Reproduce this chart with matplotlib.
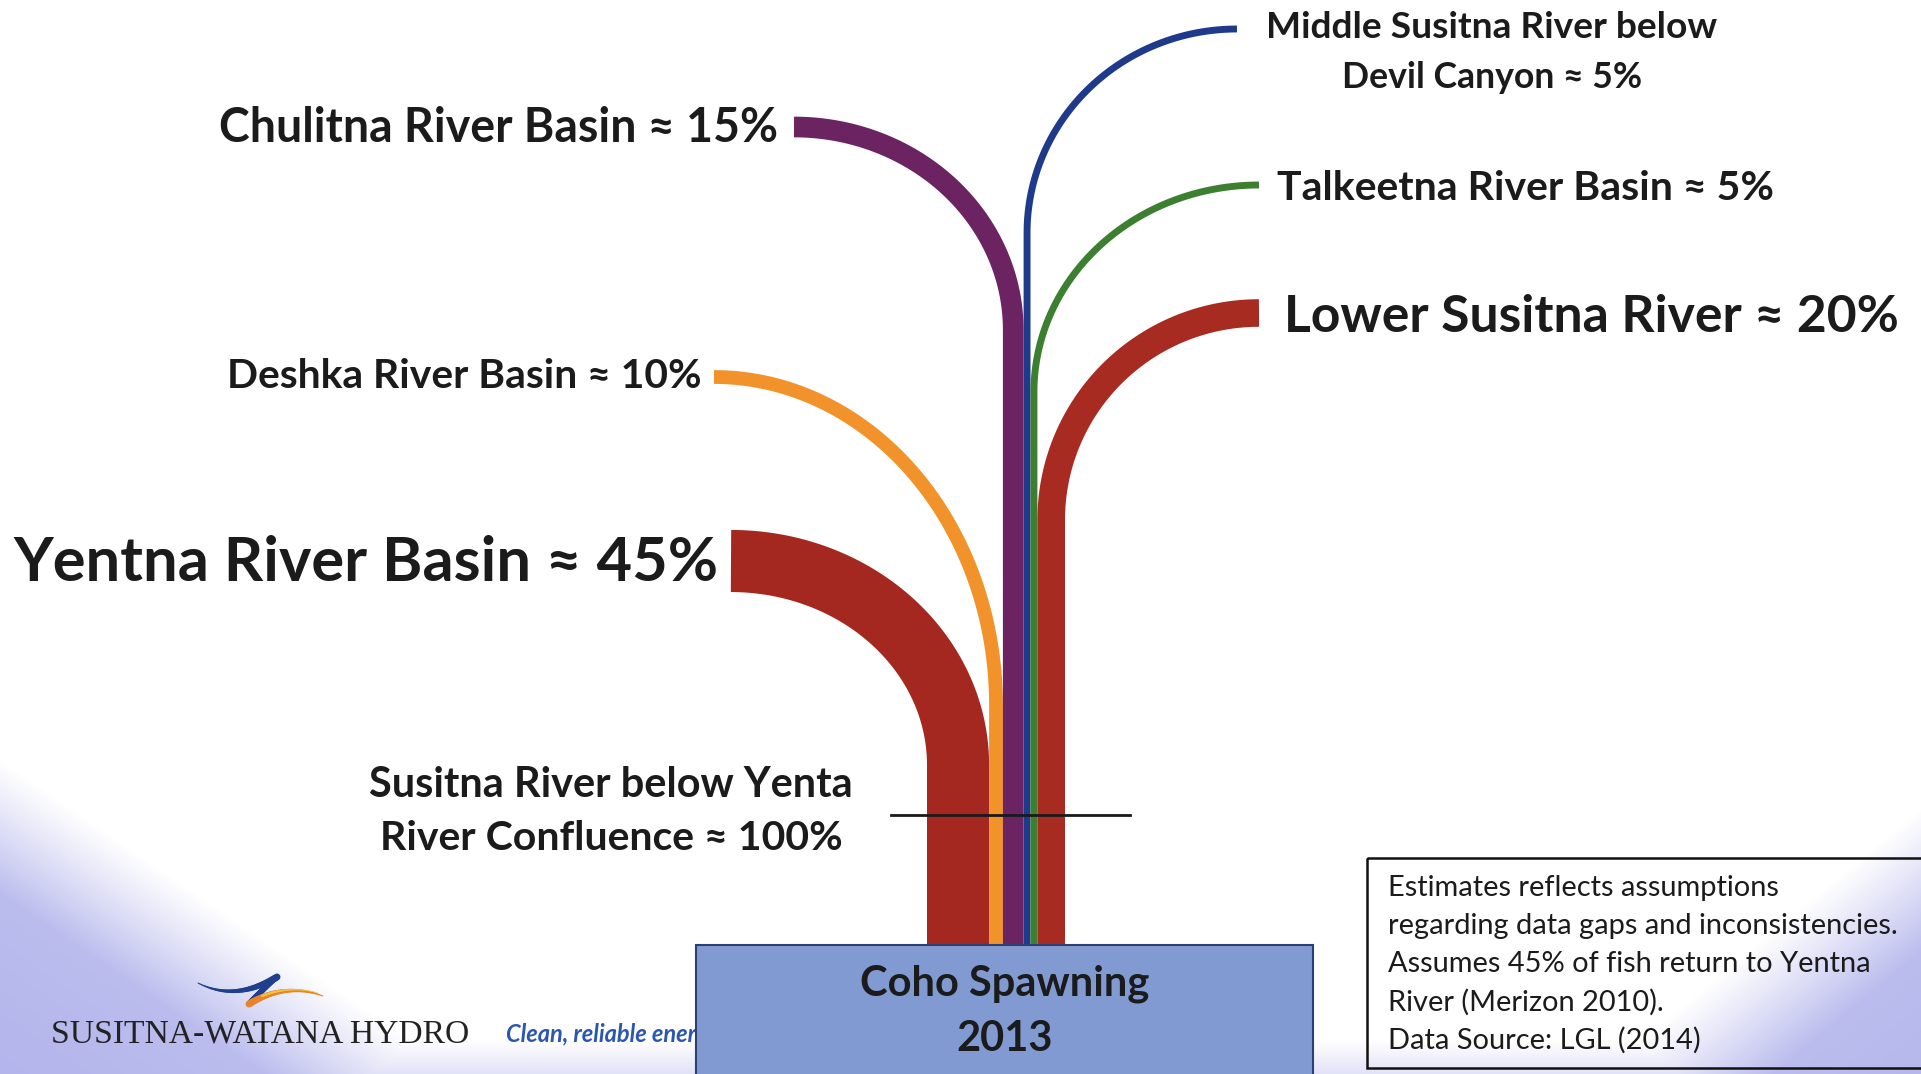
import numpy as np
import matplotlib
matplotlib.use("Agg")
import matplotlib.pyplot as plt
from matplotlib.patches import Rectangle
from matplotlib.collections import LineCollection

W, H = 1921, 1074

# share of coho spawning by river (percent)
streams = ["Yentna", "Deshka", "Chulitna", "Middle Susitna", "Talkeetna", "Lower Susitna"]
percents = [45, 10, 15, 5, 5, 20]
colors = ["#a4281f", "#f1922a", "#6c2362", "#1f3a8a", "#3c7f30", "#a82b22"]
labels = ["Yentna River Basin \u2248 45%", "Deshka River Basin \u2248 10%",
          "Chulitna River Basin \u2248 15%", "Middle Susitna River below\nDevil Canyon \u2248 5%",
          "Talkeetna River Basin \u2248 5%", "Lower Susitna River \u2248 20%"]
total_label = "Susitna River below Yenta\nRiver Confluence \u2248 100%"
total_pct = 100
box_label = "Coho Spawning\n2013"
note = ("Estimates reflects assumptions\nregarding data gaps and inconsistencies.\n"
        "Assumes 45% of fish return to Yentna\nRiver (Merizon 2010).\nData Source: LGL (2014)")

# layout (pixels): ribbon ends, where each ribbon turns vertical
end_x = [731, 714, 794, 1237, 1259, 1259]
end_y = [561, 377, 127, 29, 185, 313]
turn_y = [765, 705, 330, 233, 392, 520]
trunk_left = 927
trunk_bottom = 945
px_per_pct = 1.38

fig = plt.figure(figsize=(W / 100, H / 100), dpi=100)
ax = fig.add_axes([0, 0, 1, 1])
ax.set_xlim(0, W)
ax.set_ylim(H, 0)
ax.axis("off")

# lavender corners of the slide background
yy, xx = np.mgrid[0:H, 0:W].astype(float)
n1 = np.array([-314.0, 460.0]) / np.hypot(314, 460)
s1 = n1[0] * xx + n1[1] * (yy - 760)
n2 = np.array([217.0, 262.0]) / np.hypot(217, 262)
s2 = n2[0] * (xx - 1862) + n2[1] * (yy - 857)
s3 = (yy - 1040) * 1.5
s = np.maximum(np.maximum(s1, s2), s3)
a = np.clip(s / 110, 0, 1) * (0.75 + 0.25 * np.clip(s / 400, 0, 1))
bg = np.ones((H, W, 4))
bg[..., 0] = 1 - a * (1 - 172 / 255)
bg[..., 1] = 1 - a * (1 - 174 / 255)
bg[..., 2] = 1 - a * (1 - 234 / 255)
ax.imshow(bg, extent=[0, W, H, 0], zorder=0, aspect="auto")

# ribbons
px = np.array(percents) * px_per_pct
x_left = trunk_left + np.concatenate([[0], np.cumsum(px)[:-1]])
x_mid = x_left + px / 2
t = np.linspace(0, np.pi / 2, 120)
for i in range(len(streams)):
    xe, ye, yv, xt = end_x[i], end_y[i], turn_y[i], x_mid[i]
    xs = xe + (xt - xe) * np.sin(t)
    ys = yv - (yv - ye) * np.cos(t)
    xs = np.append(xs, xt)
    ys = np.append(ys, trunk_bottom + 2)
    ax.plot(xs, ys, color=colors[i], lw=px[i] * 0.72, solid_capstyle="butt",
            solid_joinstyle="round", zorder=2)

# confluence marker
ax.plot([891, 1130], [815, 815], color="#1a1a1a", lw=2.0, zorder=3)

fam = ["Lato", "DejaVu Sans"]
rend = fig.canvas.get_renderer()


def fit_text(x, y, s, width, ha, family=fam, **kw):
    txt = ax.text(x, y, s, ha=ha, va="center", fontsize=30, family=family, **kw)
    w = txt.get_window_extent(rend).width
    txt.set_fontsize(30 * width / w)
    return txt


dark = "#1b1b1b"
# left labels
fit_text(719, 563, labels[0], 704, "right", weight="bold", color=dark)
fit_text(702, 376, labels[1], 475, "right", weight="bold", color=dark)
fit_text(778, 128, labels[2], 559, "right", weight="bold", color=dark)
# right labels
m1, m2 = labels[3].split("\n")
fit_text(1492, 28, m1, 450, "center", weight="bold", color=dark)
fit_text(1492, 77, m2, 300, "center", weight="bold", color=dark)
fit_text(1277, 188, labels[4], 496, "left", weight="bold", color=dark)
fit_text(1284, 318, labels[5], 615, "left", weight="bold", color=dark)
# confluence label
c1, c2 = total_label.split("\n")
fit_text(611, 785, c1, 484, "center", weight="bold", color=dark)
fit_text(611, 839, c2, 462, "center", weight="bold", color=dark)


# logo swoosh
def swoosh(p0, p1, p2, w0, w1, color):
    u = np.linspace(0, 1, 40)[:, None]
    pts = (1 - u) ** 2 * np.array(p0) + 2 * u * (1 - u) * np.array(p1) + u ** 2 * np.array(p2)
    segs = np.stack([pts[:-1], pts[1:]], axis=1)
    lws = np.linspace(w0, w1, len(segs)) * 0.72
    ax.add_collection(LineCollection(segs, colors=color, linewidths=lws,
                                     capstyle="round", zorder=1))


swoosh((198, 983), (235, 1002), (277, 977), 1.0, 7.0, "#1f3f8f")
swoosh((277, 977), (262, 990), (249, 1004), 5.0, 6.0, "#1f3f8f")
swoosh((249, 1004), (285, 982), (323, 996), 7.0, 1.0, "#e8832a")
swoosh((262, 996), (290, 985), (318, 993), 2.5, 0.5, "#f2c23a")
fit_text(51, 1034, "SUSITNA-WATANA HYDRO", 418, "left",
         family=["Liberation Serif", "DejaVu Serif"], color="#222222", zorder=1)
ax.text(506, 1035, "Clean, reliable energy for the future", ha="left", va="center",
        fontsize=17, family=fam, style="italic", weight="bold", color="#2b57b0", zorder=1)

# coho box
ax.add_patch(Rectangle((696, 945), 617, 140, facecolor="#819ad2", edgecolor="#2b3f73",
                       lw=1.5, zorder=4))
b1, b2 = box_label.split("\n")
t1 = fit_text(1005, 984, b1, 289, "center", weight="bold", color=dark, zorder=5)
ax.text(1005, 1039, b2, ha="center", va="center", fontsize=t1.get_fontsize(),
        family=fam, weight="bold", color=dark, zorder=5)

# notes box
ax.add_patch(Rectangle((1367, 858), 560, 210, facecolor="none", edgecolor="#111111",
                       lw=1.8, zorder=4))
note_lines = note.split("\n")
nt = fit_text(1388, 888, note_lines[1], 510, "left", color=dark, zorder=5)
nt.set_text(note_lines[0])
for k, line in enumerate(note_lines[1:], start=1):
    ax.text(1388, 888 + 38 * k, line, ha="left", va="center", fontsize=nt.get_fontsize(),
            family=fam, color=dark, zorder=5)

fig.savefig("out.png", dpi=100)
